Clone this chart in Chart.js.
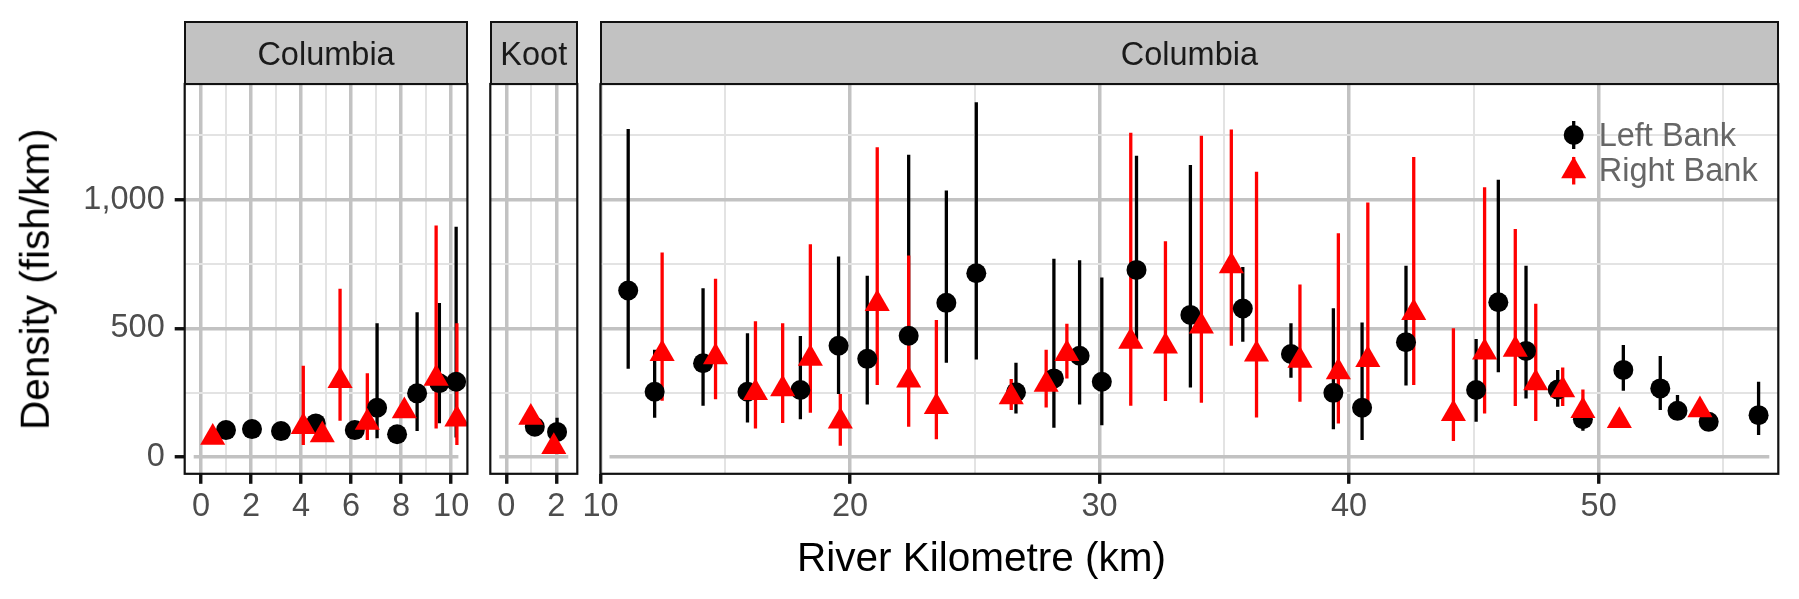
<!DOCTYPE html>
<html>
<head>
<meta charset="utf-8">
<script src="https://cdn.jsdelivr.net/npm/chart.js@4/dist/chart.umd.min.js"></script>
<style>
  html, body { margin: 0; padding: 0; background: #ffffff; }
  #wrap { position: relative; width: 1799px; height: 599px; overflow: hidden; background: #ffffff;
          font-family: "Liberation Sans", Arial, Helvetica, sans-serif; }
  #wrap canvas { position: absolute; left: 0; top: 0; }
  .strip { position: absolute; top: 20.5px; height: 64.5px; background: #c2c2c2; border: 2.2px solid #111;
           box-sizing: border-box; }
  .txt { position: absolute; white-space: nowrap; }
  .stripText { font-size: 32.5px; line-height: 32.5px; color: #1a1a1a; text-align: center; top: 37.5px; }
  .axisTitle { font-size: 40.5px; line-height: 40.5px; color: #000; text-align: center; }
  .legText { font-size: 32.5px; line-height: 32.5px; color: #666666; }
</style>
</head>
<body>
<div id="wrap">
  <canvas id="cA" width="1799" height="599"></canvas>
  <canvas id="cK" width="1799" height="599"></canvas>
  <canvas id="cC" width="1799" height="599"></canvas>
</div>
<script>
// ---------------- DATA ----------------
// Panel labels and legend names
const panelLabels = ['Columbia', 'Koot', 'Columbia'];
const seriesNames = ['Left Bank', 'Right Bank'];
const xAxisTitle = 'River Kilometre (km)';
const yAxisTitle = 'Density (fish/km)';

// Tick values / labels (major ticks are labelled, the rest are minor grid lines)
const yGridTicks = [0, 250, 500, 750, 1000, 1250];
const yMajorTicks = [0, 500, 1000];
const yTickLabels = ['0', '500', '1,000'];
const xGridTicksA = [0, 1, 2, 3, 4, 5, 6, 7, 8, 9, 10];
const xMajorTicksA = [0, 2, 4, 6, 8, 10];
const xTickLabelsA = ['0', '2', '4', '6', '8', '10'];
const xGridTicksK = [0, 1, 2];
const xMajorTicksK = [0, 2];
const xTickLabelsK = ['0', '2'];
const xGridTicksC = [10, 15, 20, 25, 30, 35, 40, 45, 50, 55];
const xMajorTicksC = [10, 20, 30, 40, 50];
const xTickLabelsC = ['10', '20', '30', '40', '50'];

// Panel A: Columbia (0-10 km)
const colA_leftKm      = [1.0, 2.04, 3.2, 4.59, 6.15, 7.04, 7.84, 8.64, 9.53, 10.2];
const colA_leftDensity = [104, 108, 100, 130, 104, 191, 88, 247, 286, 292];
const colA_leftLower   = [82, 86, 79, 100, 82, 72, 68, 100, 131, 75];
const colA_leftUpper   = [126, 130, 121, 165, 126, 520, 108, 562, 598, 895];
const colA_rightKm      = [0.47, 4.09, 4.85, 5.56, 6.65, 8.13, 9.4, 10.23];
const colA_rightDensity = [75, 117, 85, 296, 134, 178, 305, 146];
const colA_rightLower   = [60, 46, 62, 140, 65, 155, 110, 46];
const colA_rightUpper   = [92, 354, 110, 654, 325, 205, 900, 520];

// Panel K: Koot
const koot_leftKm      = [1.14, 2.03];
const koot_leftDensity = [117, 97];
const koot_leftLower   = [95, 60];
const koot_leftUpper   = [140, 152];
const koot_rightKm      = [0.98, 1.9];
const koot_rightDensity = [153, 39];
const koot_rightLower   = [135, 25];
const koot_rightUpper   = [172, 55];

// Panel C: Columbia (10-57 km)
const colC_leftKm      = [11.11, 12.17, 14.11, 15.89, 18.01, 19.54, 20.69, 22.35, 23.86, 25.06, 26.65, 28.17, 29.2, 30.09, 31.48, 33.64, 35.74, 37.67, 39.37, 40.52, 42.28, 45.09, 45.98, 47.09, 48.36, 49.37, 50.99, 52.47, 53.16, 54.41, 56.41];
const colC_leftDensity = [647, 253, 364, 253, 260, 432, 381, 471, 599, 714, 251, 305, 393, 292, 727, 552, 577, 400, 249, 191, 446, 260, 601, 412, 262, 146, 338, 266, 179, 136, 162];
const colC_leftLower   = [343, 152, 199, 134, 146, 244, 204, 280, 366, 379, 169, 113, 204, 123, 455, 270, 448, 308, 107, 65, 277, 136, 329, 227, 195, 101, 257, 182, 143, 120, 85];
const colC_leftUpper   = [1275, 416, 656, 481, 470, 779, 704, 1175, 1036, 1379, 366, 770, 765, 697, 1171, 1135, 738, 520, 578, 522, 743, 458, 1078, 743, 338, 190, 435, 392, 240, 155, 292];
const colC_rightKm      = [12.47, 14.61, 16.21, 17.30, 18.41, 19.61, 21.09, 22.35, 23.46, 26.46, 27.86, 28.69, 31.25, 32.64, 34.08, 35.28, 36.29, 38.03, 39.57, 40.75, 42.59, 44.18, 45.43, 46.66, 47.48, 48.56, 49.37, 50.83, 54.06];
const colC_rightDensity = [401, 388, 249, 264, 382, 138, 595, 298, 195, 233, 281, 401, 449, 430, 508, 742, 399, 375, 330, 378, 560, 168, 407, 417, 287, 260, 179, 140, 182];
const colC_rightLower   = [218, 224, 110, 132, 171, 43, 279, 117, 68, 182, 192, 305, 199, 217, 210, 432, 153, 214, 130, 195, 279, 62, 169, 198, 139, 198, 125, 125, 165];
const colC_rightUpper   = [795, 693, 527, 520, 827, 244, 1204, 783, 532, 303, 416, 518, 1260, 838, 1249, 1273, 1109, 670, 870, 989, 1166, 500, 1048, 886, 595, 347, 262, 155, 200];

// ---------------- STYLE / LAYOUT ----------------
const FONT = '"Liberation Sans", Arial, Helvetica, sans-serif';
const W = 1799, H = 599;
const PLOT_TOP = 84, PLOT_BOTTOM = 473.8;
const Y_MIN = -66, Y_MAX = 1450;
const LEFT_COLOR = '#000000', RIGHT_COLOR = '#ff0000';
const MAJOR_GRID = '#c2c2c2', MINOR_GRID = '#e3e3e3';

const panels = [
  { id: 'cA', left: 184.7, right: 467.4, xMin: -0.65, xMax: 10.65, grid: xGridTicksA, majors: xMajorTicksA, labels: xTickLabelsA, showY: true,
    L: [colA_leftKm, colA_leftDensity, colA_leftLower, colA_leftUpper], R: [colA_rightKm, colA_rightDensity, colA_rightLower, colA_rightUpper], legend: false },
  { id: 'cK', left: 490.3, right: 577.3, xMin: -0.64, xMax: 2.84, grid: xGridTicksK, majors: xMajorTicksK, labels: xTickLabelsK, showY: false,
    L: [koot_leftKm, koot_leftDensity, koot_leftLower, koot_leftUpper], R: [koot_rightKm, koot_rightDensity, koot_rightLower, koot_rightUpper], legend: false },
  { id: 'cC', left: 600.5, right: 1778.3, xMin: 10, xMax: 57.2, grid: xGridTicksC, majors: xMajorTicksC, labels: xTickLabelsC, showY: false,
    L: [colC_leftKm, colC_leftDensity, colC_leftLower, colC_leftUpper], R: [colC_rightKm, colC_rightDensity, colC_rightLower, colC_rightUpper], legend: true }
];

function pts(km, dens) { return km.map((k, i) => ({ x: k, y: dens[i] })); }

const decorPlugin = {
  id: 'decor',
  beforeDatasetsDraw(chart) {
    const { ctx, chartArea: a, scales: { x, y } } = chart;
    ctx.save();
    ctx.beginPath();
    ctx.rect(a.left, a.top, a.right - a.left, a.bottom - a.top);
    ctx.clip();
    // horizontal baseline segment at zero
    const y0 = y.getPixelForValue(0);
    ctx.strokeStyle = MAJOR_GRID;
    ctx.lineWidth = 3.5;
    ctx.beginPath();
    ctx.moveTo(a.left + 9, y0);
    ctx.lineTo(a.right - 9, y0);
    ctx.stroke();
    // error bars (all bars below all points)
    chart.data.datasets.forEach(ds => {
      ctx.strokeStyle = ds.barColor;
      ctx.lineWidth = 3.3;
      ctx.lineCap = 'butt';
      ds.data.forEach((p, i) => {
        const px = x.getPixelForValue(p.x);
        ctx.beginPath();
        ctx.moveTo(px, y.getPixelForValue(ds.lower[i]));
        ctx.lineTo(px, y.getPixelForValue(ds.upper[i]));
        ctx.stroke();
      });
    });
    ctx.restore();
  },
  afterDatasetsDraw(chart, args, opts) {
    const { ctx, chartArea: a } = chart;
    ctx.save();
    ctx.strokeStyle = '#111';
    ctx.lineWidth = 2.2;
    ctx.strokeRect(a.left, a.top, a.right - a.left, a.bottom - a.top);
    if (opts.legend) {
      const kx = a.right - 204.6;
      const k1 = a.top + 51, k2 = a.top + 87;
      ctx.lineWidth = 3.3;
      ctx.strokeStyle = LEFT_COLOR;
      ctx.beginPath(); ctx.moveTo(kx, k1 - 14); ctx.lineTo(kx, k1 + 14); ctx.stroke();
      ctx.fillStyle = LEFT_COLOR;
      ctx.beginPath(); ctx.arc(kx, k1, 10, 0, Math.PI * 2); ctx.fill();
      ctx.strokeStyle = RIGHT_COLOR;
      ctx.beginPath(); ctx.moveTo(kx, k2 - 14); ctx.lineTo(kx, k2 + 13.5); ctx.stroke();
      const r = 14.5;
      ctx.fillStyle = RIGHT_COLOR;
      ctx.beginPath();
      ctx.moveTo(kx, k2 - r);
      ctx.lineTo(kx + r * Math.sin(2 * Math.PI / 3), k2 + r / 2);
      ctx.lineTo(kx - r * Math.sin(2 * Math.PI / 3), k2 + r / 2);
      ctx.closePath();
      ctx.fill();
    }
    ctx.restore();
  }
};

panels.forEach(p => {
  const isMajorX = v => p.majors.indexOf(v) >= 0;
  const isMajorY = v => yMajorTicks.indexOf(v) >= 0;
  new Chart(document.getElementById(p.id), {
    type: 'scatter',
    data: {
      datasets: [
        { label: seriesNames[0], data: pts(p.L[0], p.L[1]), lower: p.L[2], upper: p.L[3], barColor: LEFT_COLOR,
          pointStyle: 'circle', pointRadius: 10, pointBackgroundColor: LEFT_COLOR, pointBorderWidth: 0, order: 2 },
        { label: seriesNames[1], data: pts(p.R[0], p.R[1]), lower: p.R[2], upper: p.R[3], barColor: RIGHT_COLOR,
          pointStyle: 'triangle', pointRadius: 14.5, pointBackgroundColor: RIGHT_COLOR, pointBorderWidth: 0, order: 1 }
      ]
    },
    options: {
      responsive: false,
      animation: false,
      events: [],
      devicePixelRatio: 1,
      layout: { padding: { left: p.showY ? 0 : p.left, right: W - p.right, top: PLOT_TOP, bottom: 0 } },
      plugins: { legend: { display: false }, tooltip: { enabled: false }, decor: { legend: p.legend } },
      scales: {
        x: {
          type: 'linear', position: 'bottom', min: p.xMin, max: p.xMax,
          afterBuildTicks: s => { s.ticks = p.grid.map(v => ({ value: v })); },
          afterFit: s => { s.height = H - PLOT_BOTTOM; },
          border: { display: false },
          grid: {
            drawTicks: true, tickLength: 10,
            color: c => isMajorX(c.tick.value) ? MAJOR_GRID : MINOR_GRID,
            lineWidth: c => isMajorX(c.tick.value) ? 3.5 : 2,
            tickColor: c => isMajorX(c.tick.value) ? '#111' : 'rgba(0,0,0,0)',
            tickWidth: c => isMajorX(c.tick.value) ? 3.4 : 0
          },
          ticks: {
            autoSkip: false, maxRotation: 0, minRotation: 0,
            padding: 4, color: '#4d4d4d', font: { family: FONT, size: 32.5 },
            callback: v => { const i = p.majors.indexOf(v); return i >= 0 ? p.labels[i] : ''; }
          }
        },
        y: {
          type: 'linear', position: 'left', min: Y_MIN, max: Y_MAX,
          afterBuildTicks: s => { s.ticks = yGridTicks.map(v => ({ value: v })); },
          afterFit: s => { s.width = p.showY ? p.left : 0; },
          border: { display: false },
          grid: {
            drawTicks: p.showY, tickLength: 10,
            color: c => c.tick.value === 0 ? 'rgba(0,0,0,0)' : (isMajorY(c.tick.value) ? MAJOR_GRID : MINOR_GRID),
            lineWidth: c => isMajorY(c.tick.value) ? 3.5 : 2,
            tickColor: c => isMajorY(c.tick.value) ? '#111' : 'rgba(0,0,0,0)',
            tickWidth: c => isMajorY(c.tick.value) ? 3.4 : 0
          },
          ticks: {
            display: p.showY, autoSkip: false,
            padding: 10, color: '#4d4d4d', font: { family: FONT, size: 32.5 },
            callback: v => { const i = yMajorTicks.indexOf(v); return i >= 0 ? yTickLabels[i] : ''; }
          }
        }
      }
    },
    plugins: [decorPlugin]
  });
});

// ---------------- TEXT (strips, titles, legend labels) ----------------
const wrap = document.getElementById('wrap');
function addDiv(cls, text, style) {
  const d = document.createElement('div');
  d.className = cls;
  if (text !== null) d.textContent = text;
  Object.assign(d.style, style);
  wrap.appendChild(d);
  return d;
}
panels.forEach((p, i) => {
  const l = p.left - 0.6, w = p.right - p.left + 1.2;
  addDiv('strip', null, { left: l + 'px', width: w + 'px' });
  addDiv('txt stripText', panelLabels[i], { left: l + 'px', width: w + 'px' });
});
const plotCenter = (panels[0].left + panels[2].right) / 2;
addDiv('txt axisTitle', xAxisTitle, { left: (plotCenter - 400) + 'px', width: '800px', top: '536.7px' });
addDiv('txt axisTitle', yAxisTitle, { left: (35.3 - 200) + 'px', width: '400px', top: (278.9 - 20.25) + 'px',
  height: '40.5px', transform: 'rotate(-90deg)', transformOrigin: '50% 50%' });
addDiv('txt legText', seriesNames[0], { left: '1598.7px', top: '119.2px' });
addDiv('txt legText', seriesNames[1], { left: '1598.7px', top: '153.5px' });
</script>
</body>
</html>
